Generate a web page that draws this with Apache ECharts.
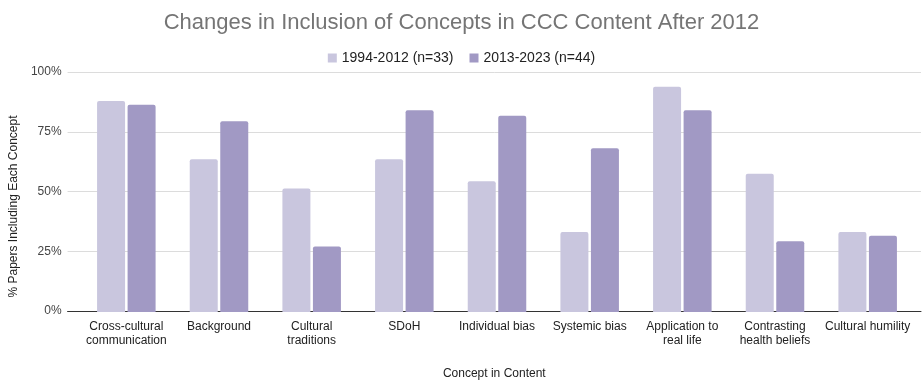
<!DOCTYPE html>
<html>
<head>
<meta charset="utf-8">
<script src="https://cdn.jsdelivr.net/npm/echarts@6/dist/echarts.min.js"></script>
<style>
  html, body { margin: 0; padding: 0; background: #fff; }
  #chart { width: 923px; height: 385px; }
</style>
</head>
<body>
<div id="chart"></div>
<script>
var categories = ['Cross-cultural\ncommunication', 'Background', 'Cultural\ntraditions', 'SDoH',
    'Individual bias', 'Systemic bias', 'Application to\nreal life', 'Contrasting\nhealth beliefs',
    'Cultural humility'];
var seriesNames = ['1994-2012 (n=33)', '2013-2023 (n=44)'];
// percent of papers including each concept
var early = [87.9, 63.6, 51.5, 63.6, 54.5, 33.3, 93.9, 57.6, 33.3];
var late = [86.4, 79.5, 27.3, 84.1, 81.8, 68.2, 84.1, 29.5, 31.8];
var yTicks = [0, 25, 50, 75, 100];

var chartDom = document.getElementById('chart');
var chart = echarts.init(chartDom, null, {renderer: 'canvas'});
var font = '"Liberation Sans", Arial, sans-serif';

var option = {
    animation: false,
    textStyle: {fontFamily: font},
    title: {
        text: 'Changes in Inclusion of Concepts in CCC Content After 2012',
        left: 'center',
        top: 7,
        textStyle: {fontFamily: font, fontSize: 22, fontWeight: 'normal', color: '#757575'}
    },
    legend: {
        data: seriesNames,
        top: 46,
        left: 'center',
        icon: 'rect',
        itemWidth: 9,
        itemHeight: 9,
        itemGap: 16,
        textStyle: {fontFamily: font, fontSize: 14, color: '#222'}
    },
    grid: [
        // background grid: gridlines and axis line across full width
        {left: 63, right: 2, top: 72, bottom: 73},
        // bars
        {left: 80, right: 9, top: 72, bottom: 73}
    ],
    xAxis: [{
        type: 'value',
        gridIndex: 0,
        min: 0,
        max: 1,
        axisLine: {show: true, lineStyle: {color: '#333', width: 1}},
        axisTick: {show: false},
        axisLabel: {show: false},
        splitLine: {show: false},
        name: 'Concept in Content',
        nameLocation: 'middle',
        nameGap: 57,
        nameTextStyle: {fontFamily: font, fontSize: 12, color: '#222'}
    }, {
        type: 'category',
        gridIndex: 1,
        data: categories,
        axisLine: {show: false},
        axisTick: {show: false},
        axisLabel: {fontFamily: font, fontSize: 12, color: '#222', margin: 8, lineHeight: 14, interval: 0}
    }],
    yAxis: [{
        type: 'value',
        gridIndex: 0,
        min: 0,
        max: 100,
        interval: 25,
        axisLine: {show: false},
        axisTick: {show: false},
        axisLabel: {
            fontFamily: font, fontSize: 12, color: '#444', margin: 6,
            formatter: function (v) { return yTicks.indexOf(v) >= 0 ? v + '%' : ''; }
        },
        splitLine: {lineStyle: {color: '#dcdcdc', width: 1}},
        name: '% Papers Including Each Concept',
        nameLocation: 'middle',
        nameGap: 44,
        nameTextStyle: {fontFamily: font, fontSize: 12, color: '#222', padding: [0, 30, 0, 0]}
    }, {
        type: 'value',
        gridIndex: 1,
        min: 0,
        max: 100,
        show: false,
        splitLine: {show: false}
    }],
    series: [{
        name: seriesNames[0],
        type: 'bar',
        xAxisIndex: 1,
        yAxisIndex: 1,
        data: early,
        barWidth: 28,
        barGap: '9%',
        itemStyle: {color: '#c9c6de', borderRadius: [2, 2, 0, 0]}
    }, {
        name: seriesNames[1],
        type: 'bar',
        xAxisIndex: 1,
        yAxisIndex: 1,
        data: late,
        barWidth: 28,
        barGap: '9%',
        itemStyle: {color: '#a199c4', borderRadius: [2, 2, 0, 0]}
    }]
};

option && chart.setOption(option);
</script>
</body>
</html>
